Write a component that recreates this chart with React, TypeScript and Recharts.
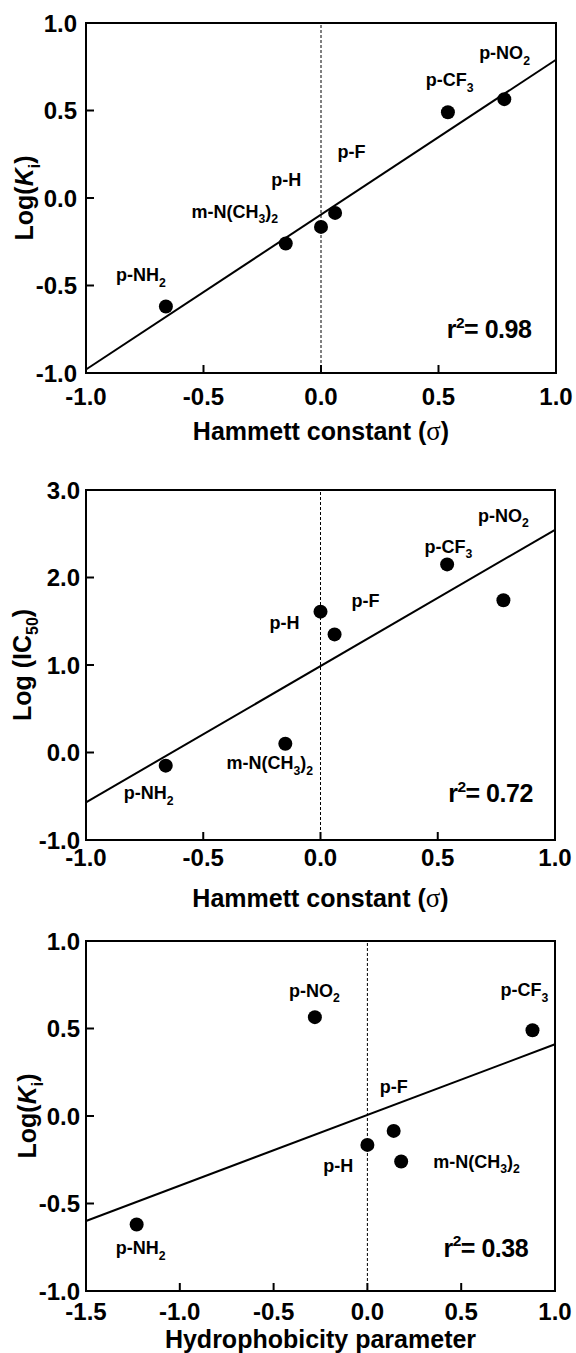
import React from "react";
import {
  ScatterChart,
  Scatter,
  XAxis,
  YAxis,
  ReferenceLine,
  ReferenceArea,
} from "recharts";

// substituents, in the same order in every array below
const substituents = ["p-NH_2", "m-N(CH_3)_2", "p-H", "p-F", "p-CF_3", "p-NO_2"];
const sigma = [-0.66, -0.15, 0, 0.06, 0.54, 0.78];
const hydrophobicity = [-1.23, 0.18, 0, 0.14, 0.88, -0.28];
const logKi = [-0.62, -0.26, -0.165, -0.085, 0.49, 0.565];
const logIC50 = [-0.15, 0.1, 1.61, 1.35, 2.15, 1.74];

// where each substituent name is written (data coords, same order)
const labelPos1 = [
  [-0.766, -0.438],
  [-0.367, -0.076],
  [-0.148, 0.105],
  [0.13, 0.267],
  [0.547, 0.676],
  [0.781, 0.829],
];
const labelPos2 = [
  [-0.733, -0.459],
  [-0.216, -0.116],
  [-0.153, 1.484],
  [0.192, 1.735],
  [0.545, 2.36],
  [0.78, 2.714],
];
const labelPos3 = [
  [-1.209, -0.752],
  [0.582, -0.26],
  [-0.155, -0.284],
  [0.14, 0.168],
  [0.837, 0.721],
  [-0.282, 0.718],
];

// regression lines
const fit1 = [{ x: -1, y: -0.98 }, { x: 1, y: 0.79 }];
const fit2 = [{ x: -1, y: -0.57 }, { x: 1, y: 2.545 }];
const fit3 = [{ x: -1.5, y: -0.6 }, { x: 1, y: 0.41 }];

const r2Text = ["r^2= 0.98", "r^2= 0.72", "r^2= 0.38"];
const r2Pos = [
  [0.715, -0.749],
  [0.725, -0.467],
  [0.631, -0.752],
];

const sigmaTicks = [-1, -0.5, 0, 0.5, 1];
const piTicks = [-1.5, -1, -0.5, 0, 0.5, 1];
const kiTicks = [-1, -0.5, 0, 0.5, 1];
const ic50Ticks = [-1, 0, 1, 2, 3];

const FONT = '"Liberation Sans", Arial, Helvetica, sans-serif';

const zip = (xs: number[], ys: number[]) =>
  xs.map((x, i) => ({ x, y: ys[i], name: substituents[i] }));
const labelRows = (pos: number[][]) =>
  pos.map(([x, y], i) => ({ x, y, name: substituents[i] }));

function rich(str: string, size: number) {
  const tokens = str.split(/(_\d+|\^\d+)/).filter(Boolean);
  let shift = 0;
  return tokens.map((t, i) => {
    let target = 0;
    let text = t;
    let fs = size;
    if (t[0] === "_") {
      target = size * 0.3;
      text = t.slice(1);
      fs = size * 0.68;
    } else if (t[0] === "^") {
      target = -size * 0.42;
      text = t.slice(1);
      fs = size * 0.62;
    }
    const dy = target - shift;
    shift = target;
    return (
      <tspan key={i} dy={dy} fontSize={fs}>
        {text}
      </tspan>
    );
  });
}

const Dot = (p: any) => <circle cx={p.cx} cy={p.cy} r={7} fill="#000" />;

const NameLabel = (p: any) => (
  <text
    x={p.cx}
    y={p.cy + 6.5}
    textAnchor="middle"
    fontFamily={FONT}
    fontWeight="bold"
    fontSize={18}
    fill="#000"
  >
    {rich(p.payload.name, 18)}
  </text>
);

const R2Label = (p: any) => (
  <text
    x={p.cx}
    y={p.cy + 9}
    textAnchor="middle"
    fontFamily={FONT}
    fontWeight="bold"
    fontSize={25}
    fill="#000"
    letterSpacing={-0.5}
  >
    {rich(p.payload.name, 25)}
  </text>
);

type PanelProps = {
  top: number;
  height: number;
  right: number;
  xDomain: [number, number];
  xTicks: number[];
  yDomain: [number, number];
  yTicks: number[];
  points: { x: number; y: number; name: string }[];
  labels: { x: number; y: number; name: string }[];
  r2: { x: number; y: number; name: string }[];
  fit: { x: number; y: number }[];
  xMargin: number;
  yMargin: number;
  xTitle: React.ReactNode;
  xTitleGap: number;
  yTitle: React.ReactNode;
  yTitleX: number;
};

function Panel(props: PanelProps) {
  const axisStyle = { stroke: "#000", strokeWidth: 2 };
  const tickStyle = {
    fill: "#000",
    fontSize: 24,
    fontWeight: "bold",
    fontFamily: FONT,
  };
  return (
    <div style={{ position: "absolute", left: 0, top: props.top }}>
      <ScatterChart
        width={576}
        height={props.height}
        margin={{ top: 23, right: props.right, left: 0, bottom: 0 }}
      >
        <XAxis
          type="number"
          dataKey="x"
          domain={props.xDomain}
          ticks={props.xTicks}
          tickFormatter={(v: number) => v.toFixed(1)}
          height={props.height - 23 - 350}
          axisLine={axisStyle}
          tickLine={axisStyle}
          tickSize={-8}
          tickMargin={props.xMargin}
          tick={tickStyle}
          interval={0}
          label={{
            content: ({ viewBox }: any) => (
              <text
                x={viewBox.x + viewBox.width / 2}
                y={viewBox.y + props.xTitleGap}
                textAnchor="middle"
                fontFamily={FONT}
                fontWeight="bold"
                fontSize={25}
                fill="#000"
              >
                {props.xTitle}
              </text>
            ),
          }}
        />
        <YAxis
          type="number"
          dataKey="y"
          domain={props.yDomain}
          ticks={props.yTicks}
          tickFormatter={(v: number) => v.toFixed(1)}
          width={86}
          axisLine={axisStyle}
          tickLine={axisStyle}
          tickSize={-8}
          tickMargin={props.yMargin}
          tick={tickStyle}
          interval={0}
          label={{
            content: ({ viewBox }: any) => {
              const cx = props.yTitleX;
              const cy = viewBox.y + viewBox.height / 2;
              return (
                <text
                  x={cx}
                  y={cy}
                  transform={`rotate(-90, ${cx}, ${cy})`}
                  textAnchor="middle"
                  fontFamily={FONT}
                  fontWeight="bold"
                  fontSize={25}
                  fill="#000"
                >
                  {props.yTitle}
                </text>
              );
            },
          }}
        />
        <ReferenceArea
          x1={props.xDomain[0]}
          x2={props.xDomain[1]}
          y1={props.yDomain[0]}
          y2={props.yDomain[1]}
          stroke="#000"
          strokeWidth={2}
          fill="none"
          fillOpacity={0}
        />
        <ReferenceLine x={0} stroke="#000" strokeWidth={1} strokeDasharray="3 2" />
        <ReferenceLine
          segment={props.fit}
          stroke="#000"
          strokeWidth={2}
        />
        <Scatter data={props.points} shape={Dot} isAnimationActive={false} />
        <Scatter data={props.labels} shape={NameLabel} isAnimationActive={false} />
        <Scatter data={props.r2} shape={R2Label} isAnimationActive={false} />
      </ScatterChart>
    </div>
  );
}

const sigmaSym = (
  <tspan fontFamily='"Liberation Serif", "Times New Roman", serif' fontWeight="normal" fontSize={27}>
    σ
  </tspan>
);
const hammett = <>Hammett constant ({sigmaSym})</>;
const logKiTitle = (
  <>
    Log(<tspan fontStyle="italic">K</tspan>
    <tspan dy={7} fontSize={16}>
      i
    </tspan>
    <tspan dy={-7}>)</tspan>
  </>
);
const logIC50Title = (
  <>
    Log (IC
    <tspan dy={7} fontSize={16}>
      50
    </tspan>
    <tspan dy={-7}>)</tspan>
  </>
);

export default function App() {
  return (
    <div
      style={{
        position: "absolute",
        left: 0,
        top: 0,
        width: 576,
        height: 1353,
        background: "#fff",
      }}
    >
      <Panel
        top={0}
        height={467}
        right={20}
        xDomain={[-1, 1]}
        xTicks={sigmaTicks}
        yDomain={[-1, 1]}
        yTicks={kiTicks}
        points={zip(sigma, logKi)}
        labels={labelRows(labelPos1)}
        r2={[{ x: r2Pos[0][0], y: r2Pos[0][1], name: r2Text[0] }]}
        fit={fit1}
        xMargin={23}
        yMargin={17}
        xTitle={hammett}
        xTitleGap={67}
        yTitle={logKiTitle}
        yTitleX={33}
      />
      <Panel
        top={467}
        height={451}
        right={21}
        xDomain={[-1, 1]}
        xTicks={sigmaTicks}
        yDomain={[-1, 3]}
        yTicks={ic50Ticks}
        points={zip(sigma, logIC50)}
        labels={labelRows(labelPos2)}
        r2={[{ x: r2Pos[1][0], y: r2Pos[1][1], name: r2Text[1] }]}
        fit={fit2}
        xMargin={17}
        yMargin={14}
        xTitle={hammett}
        xTitleGap={67}
        yTitle={logIC50Title}
        yTitleX={31}
      />
      <Panel
        top={918}
        height={435}
        right={21}
        xDomain={[-1.5, 1]}
        xTicks={piTicks}
        yDomain={[-1, 1]}
        yTicks={kiTicks}
        points={zip(hydrophobicity, logKi)}
        labels={labelRows(labelPos3)}
        r2={[{ x: r2Pos[2][0], y: r2Pos[2][1], name: r2Text[2] }]}
        fit={fit3}
        xMargin={20}
        yMargin={14}
        xTitle="Hydrophobicity parameter"
        xTitleGap={57}
        yTitle={logKiTitle}
        yTitleX={36}
      />
    </div>
  );
}
